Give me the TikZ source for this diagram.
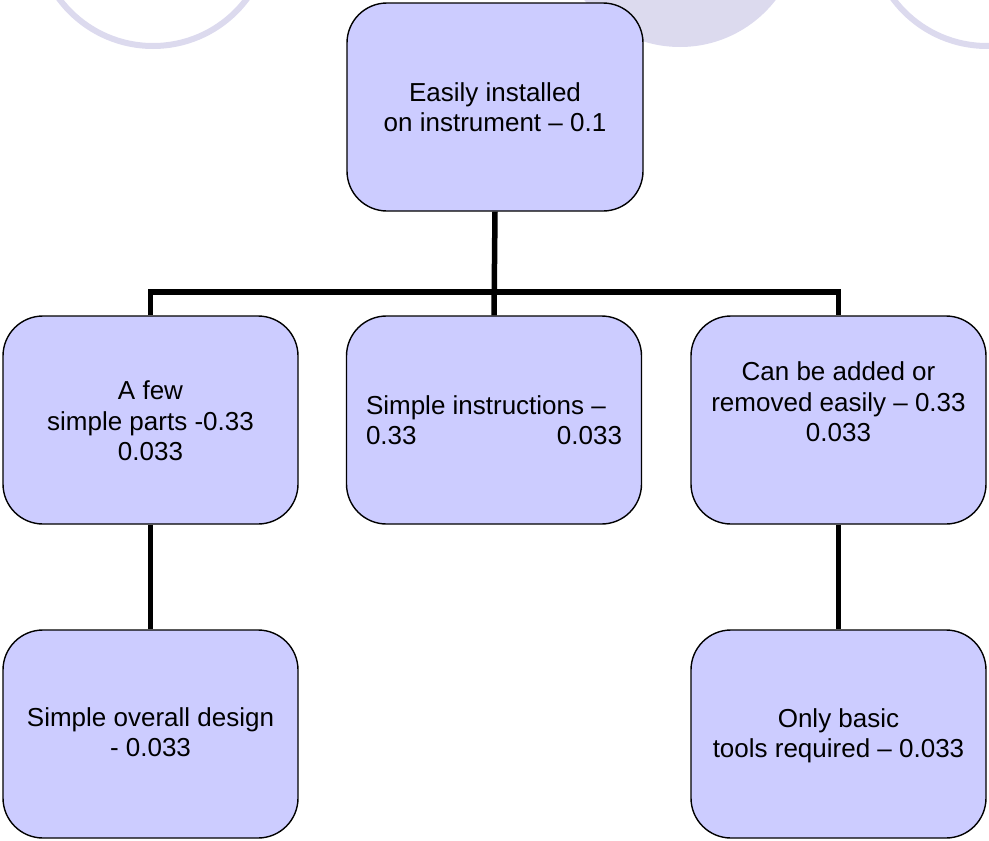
\documentclass[tikz,border=0pt]{standalone}
\usepackage{fontspec}
\setmainfont{Liberation Sans}
\usetikzlibrary{backgrounds}
\definecolor{boxfill}{RGB}{204,204,255}
\definecolor{ghost}{RGB}{220,218,238}
\begin{document}
\begin{tikzpicture}[x=1pt,y=-1pt,
  card/.style={draw=black, line width=1.4pt, fill=boxfill, rounded corners=40pt,
               minimum width=295pt, minimum height=208pt, inner sep=0pt},
  caption/.style={align=center, font=\fontsize{26}{30.5}\selectfont, inner sep=0pt},
  link/.style={draw=black, line width=5.5pt, line join=miter},
  halo/.style={draw=ghost, line width=6pt},
  blob/.style={fill=ghost}]
\useasboundingbox (0,0) rectangle (989,841);

% boxes
\node[card, minimum width=296pt] (top) at (495,107) {};
\node[card] (L1) at (150.5,420) {};
\node[card] (C1) at (494,420) {};
\node[card] (R1) at (838.5,420) {};
\node[card] (L2) at (150.5,734) {};
\node[card] (R2) at (838.5,734) {};

\begin{pgfonlayer}{background}
  % faint decorative circles along the top edge
  \begin{scope}
    \clip (0,0) rectangle (989,841);
    \draw[halo] (153,-71) circle (117pt);
    \fill[blob] (680,-74) circle (121pt);
    \draw[halo] (987,-71) circle (117pt);
  \end{scope}
  % tree connectors, tucked under the boxes
  \coordinate (bus) at (494,292);
  \draw[link] (top.south) -- (C1.north);
  \draw[link] (L1.north) -- (L1.north |- bus) -- (R1.north |- bus) -- (R1.north);
  \draw[link] (L1.south) -- (L2.north);
  \draw[link] (R1.south) -- (R2.north);
\end{pgfonlayer}

% labels
\node[caption] (topT) at (top.center) {Easily installed\\on instrument – 0.1};
\node[caption] (L1T) at ([yshift=-1pt]L1.center) {A few\\simple parts -0.33\\0.033};
\node[caption, align=left] (C1T) at (C1.center) {Simple instructions –\\\makebox[256pt]{0.33\hfill0.033}};
\node[caption] (R1T) at ([yshift=18pt]R1.center) {Can be added or\\removed easily – 0.33\\0.033};
\node[caption] (L2T) at ([yshift=2pt]L2.center) {Simple overall design\\- 0.033};
\node[caption] (R2T) at ([yshift=-2pt]R2.center) {Only basic\\tools required – 0.033};
\end{tikzpicture}
\end{document}
